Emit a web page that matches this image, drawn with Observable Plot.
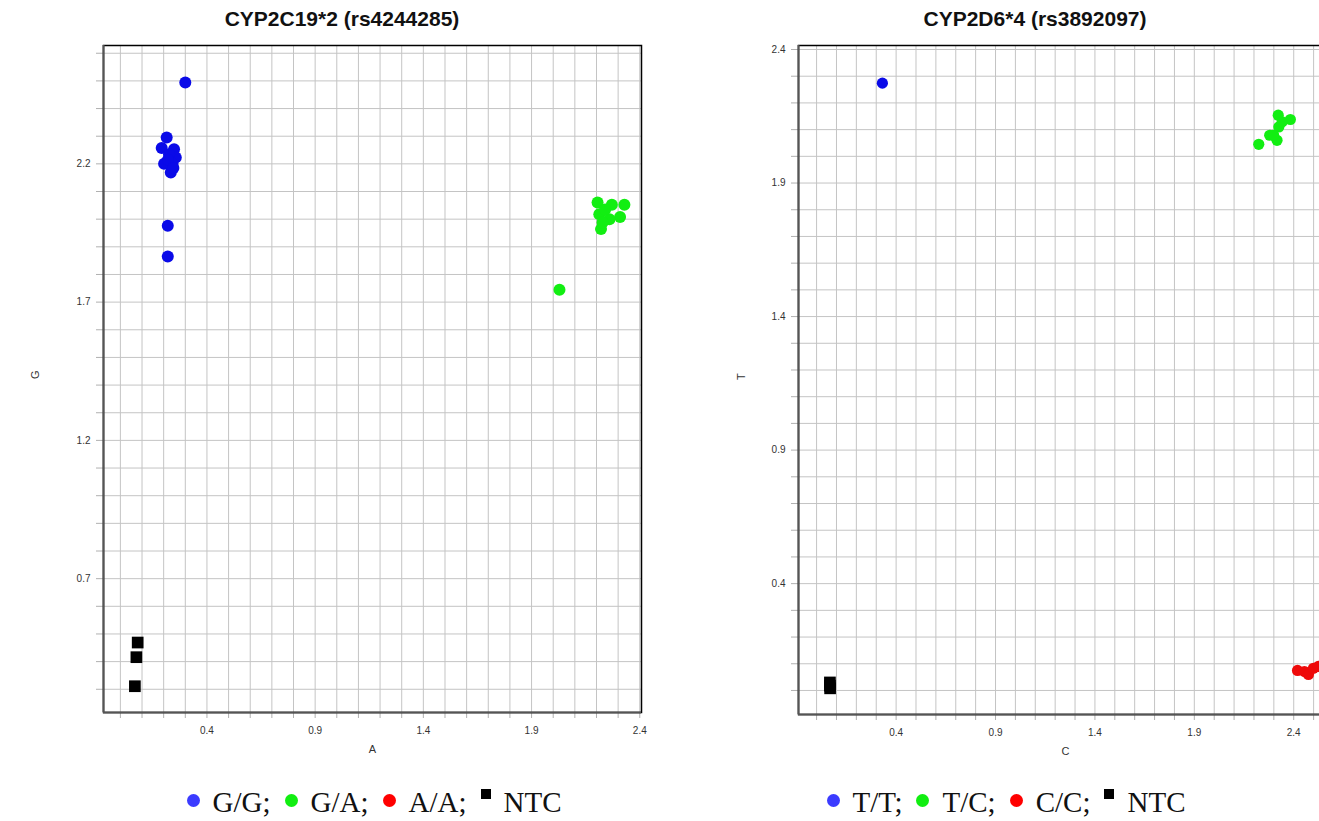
<!DOCTYPE html>
<html>
<head>
<meta charset="utf-8">
<script src="https://cdn.jsdelivr.net/npm/d3@7"></script>
<script src="https://cdn.jsdelivr.net/npm/@observablehq/plot@0.6"></script>
<style>
  html, body { margin: 0; padding: 0; background: #fff; }
  body { width: 1319px; height: 821px; position: relative; overflow: hidden; }
  .chart { position: absolute; top: 0; overflow: hidden; }
  .chart svg { max-width: none !important; height: 760px !important; }
  .title { position: absolute; top: 7px; text-align: center; font: bold 21px "Liberation Sans", Arial, sans-serif; color: #111; }
  .legend { position: absolute; top: 786px; display: flex; justify-content: center; align-items: center;
            font: 29px "Liberation Serif", "DejaVu Serif", serif; color: #111; white-space: pre; }
  .legend .c { display: inline-block; width: 13px; height: 13px; border-radius: 50%; margin: 0 13px 0 14px; position: relative; top: -2px; }
  .legend .s { display: inline-block; width: 10px; height: 10px; margin: 0 13px 0 14px; position: relative; top: -9px; background: #000; }
  .legend .c.first { margin-left: 0; }
</style>
</head>
<body>
<script>
// ---------- Left chart: CYP2C19*2 (rs4244285) ----------
const leftTitle = "CYP2C19*2 (rs4244285)";
const leftXLabel = "A";
const leftYLabel = "G";
const leftXTicks = [0.4, 0.9, 1.4, 1.9, 2.4];
const leftYTicks = [0.7, 1.2, 1.7, 2.2];
const leftGG_x = [0.300, 0.214, 0.191, 0.248, 0.256, 0.202, 0.241, 0.233, 0.225, 0.220, 0.245, 0.219, 0.219];
const leftGG_y = [2.494, 2.295, 2.257, 2.253, 2.223, 2.200, 2.200, 2.169, 2.235, 2.215, 2.185, 1.976, 1.865];
const leftGA_x = [2.029, 2.205, 2.271, 2.329, 2.309, 2.221, 2.260, 2.213, 2.228, 2.240];
const leftGA_y = [1.745, 2.060, 2.052, 2.052, 2.008, 1.964, 2.000, 2.018, 1.988, 2.035];
const leftAA_x = [];
const leftAA_y = [];
const leftNTC_x = [0.080, 0.074, 0.067];
const leftNTC_y = [0.469, 0.416, 0.311];
const leftLegend = ["G/G", "G/A", "A/A", "NTC"];

// ---------- Right chart: CYP2D6*4 (rs3892097) ----------
const rightTitle = "CYP2D6*4 (rs3892097)";
const rightXLabel = "C";
const rightYLabel = "T";
const rightXTicks = [0.4, 0.9, 1.4, 1.9, 2.4];
const rightYTicks = [0.4, 0.9, 1.4, 1.9, 2.4];
const rightTT_x = [0.331];
const rightTT_y = [2.274];
const rightTC_x = [2.224, 2.279, 2.316, 2.325, 2.322, 2.383, 2.342, 2.299];
const rightTC_y = [2.045, 2.079, 2.060, 2.110, 2.154, 2.138, 2.129, 2.079];
const rightCC_x = [2.419, 2.454, 2.474, 2.499, 2.524, 2.550, 2.580];
const rightCC_y = [0.075, 0.071, 0.060, 0.083, 0.090, 0.080, 0.085];
const rightNTC_x = [0.067, 0.067, 0.068];
const rightNTC_y = [0.030, 0.018, 0.008];
const rightLegend = ["T/T", "T/C", "C/C", "NTC"];

const genoColors = ["#0a0ae8", "#12ee12", "#ee0a0a", "#000000"];
const legendColors = ["#3b3bff", "#11ee11", "#ff0000", "#000000"];

function pts(xs, ys) { return xs.map((x, i) => ({x, y: ys[i]})); }
function gridVals(lo, hi) { return d3.range(Math.round(lo * 10), Math.round(hi * 10) + 1).map(i => i / 10); }

function makeChart(cfg) {
  const groups = cfg.groups;
  const marks = [
    Plot.gridX(gridVals(cfg.gx[0], cfg.gx[1]), {stroke: "#c4c4c4", strokeOpacity: 1, strokeWidth: 1}),
    Plot.gridY(gridVals(cfg.gy[0], cfg.gy[1]), {stroke: "#c4c4c4", strokeOpacity: 1, strokeWidth: 1}),
    Plot.axisX(gridVals(cfg.gx[0], cfg.gx[1]), {tickSize: 6, tickFormat: () => "", stroke: "#b0b0b0", label: null}),
    Plot.axisY(gridVals(cfg.gy[0], cfg.gy[1]), {tickSize: 7, tickFormat: () => "", stroke: "#b0b0b0", label: null}),
    Plot.axisX(cfg.xTicks, {tickSize: 0, tickPadding: 14, fontSize: 10, fill: "#333", tickFormat: d => d.toFixed(1), label: null}),
    Plot.axisY(cfg.yTicks, {tickSize: 0, tickPadding: 13, fontSize: 10, fill: "#333", tickFormat: d => d.toFixed(1), label: null}),
    Plot.frame({stroke: "#000", strokeWidth: 1.5}),
    Plot.ruleX([cfg.xd[0]], {stroke: "#555", strokeWidth: 2}),
    Plot.ruleY([cfg.yd[0]], {stroke: "#555", strokeWidth: 2}),
    Plot.text([cfg.xLabel], {frameAnchor: "bottom", dy: 40, fontSize: 11, fill: "#333"}),
    Plot.text([cfg.yLabel], {frameAnchor: "left", dx: cfg.yLabelDx, rotate: -90, fontSize: 11, fill: "#333"})
  ];
  groups.forEach((g, i) => {
    if (i < 3) marks.push(Plot.dot(pts(g[0], g[1]), {x: "x", y: "y", r: cfg.r, fill: genoColors[i], stroke: "none"}));
    else marks.push(Plot.dot(pts(g[0], g[1]), {x: "x", y: "y", r: 6.6, symbol: "square", fill: genoColors[i], stroke: "none"}));
  });
  return Plot.plot({
    width: cfg.width, height: 760,
    marginLeft: cfg.ml, marginRight: cfg.mr, marginTop: 45, marginBottom: cfg.mb,
    x: {domain: cfg.xd, label: null},
    y: {domain: cfg.yd, label: null},
    style: {background: "transparent", fontFamily: "Liberation Sans, Arial, sans-serif", maxWidth: "none"},
    marks
  });
}

function addChart(left, visibleWidth, cfg) {
  const div = document.createElement("div");
  div.className = "chart";
  div.style.left = left + "px";
  div.style.width = visibleWidth + "px";
  div.style.height = "760px";
  const svg = makeChart(cfg);
  svg.style.width = cfg.width + "px";
  div.appendChild(svg);
  document.body.appendChild(div);
}

function addText(cls, text, left, width) {
  const d = document.createElement("div");
  d.className = cls; d.textContent = text;
  d.style.left = left + "px"; d.style.width = width + "px";
  document.body.appendChild(d);
}

function addLegend(labels, left, width) {
  const d = document.createElement("div");
  d.className = "legend";
  d.style.left = left + "px"; d.style.width = width + "px";
  labels.forEach((lab, i) => {
    const sym = document.createElement("span");
    sym.className = (i < 3 ? "c" : "s") + (i === 0 ? " first" : "");
    sym.style.background = legendColors[i];
    d.appendChild(sym);
    d.appendChild(document.createTextNode(lab + (i < labels.length - 1 ? ";" : "")));
  });
  document.body.appendChild(d);
}

addChart(0, 700, {
  width: 660, ml: 103, mr: 19, mb: 48,
  xd: [-0.078, 2.408], yd: [0.216, 2.628],
  gx: [0.0, 2.4], gy: [0.3, 2.6],
  xTicks: leftXTicks, yTicks: leftYTicks,
  xLabel: leftXLabel, yLabel: leftYLabel, yLabelDx: -68, r: 6,
  groups: [[leftGG_x, leftGG_y], [leftGA_x, leftGA_y], [leftAA_x, leftAA_y], [leftNTC_x, leftNTC_y]]
});

addChart(700, 619, {
  width: 660, ml: 98, mr: 28, mb: 46,
  xd: [-0.091, 2.595], yd: [-0.09, 2.415],
  gx: [0.0, 2.5], gy: [0.0, 2.4],
  xTicks: rightXTicks, yTicks: rightYTicks,
  xLabel: rightXLabel, yLabel: rightYLabel, yLabelDx: -57, r: 5.6,
  groups: [[rightTT_x, rightTT_y], [rightTC_x, rightTC_y], [rightCC_x, rightCC_y], [rightNTC_x, rightNTC_y]]
});

addText("title", leftTitle, 42, 600);
addText("title", rightTitle, 735, 600);
addLegend(leftLegend, 0, 748);
addLegend(rightLegend, 706, 600);
</script>
</body>
</html>
